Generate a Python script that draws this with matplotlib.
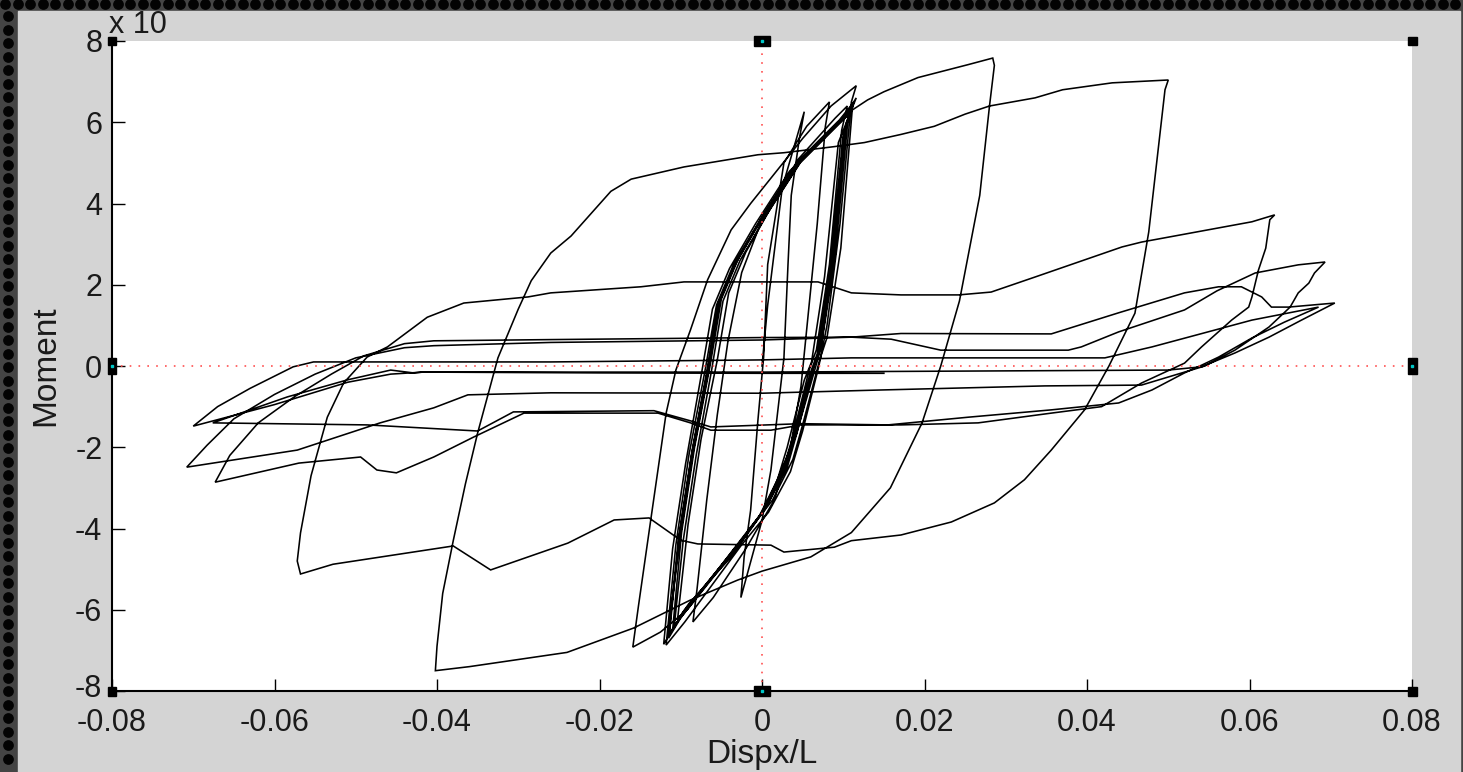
import numpy as np
import matplotlib
matplotlib.use('Agg')
import matplotlib.pyplot as plt
from matplotlib.patches import Rectangle
from matplotlib.transforms import ScaledTranslation

W, H = 1463, 772

## Hysteresis record (disp/L, moment).
# early elastic cycles
cyc_e0 = [(0.0, 0.0), (0.0007, 1.5), (0.0025, 4.4), (0.0052, 6.26),
          (0.0046, 5.6), (0.0036, 4.2), (0.0032, 2.5), (0.0027, 0.2), (0.0011, -2.56), (0.0, -3.8),
          (-0.0015, -4.9), (-0.0026, -5.7),
          (-0.0022, -4.7), (-0.0014, -3.55), (-0.0005, -1.33), (0.0002, 0.22), (0.0007, 2.5),
          (0.0027, 5.0), (0.0055, 5.9), (0.0083, 6.5)]
cyc_e1 = [(0.0078, 5.9), (0.0068, 3.5), (0.0058, 1.5), (0.0048, -0.5), (0.0035, -2.0), (0.0015, -3.3),
          (-0.002, -4.5), (-0.006, -5.7), (-0.0085, -6.3),
          (-0.0080, -5.5), (-0.0068, -3.3), (-0.0055, -1.2), (-0.0042, 0.6), (-0.0025, 2.3), (0.0, 3.6),
          (0.0045, 5.1), (0.0090, 6.1), (0.0105, 6.4)]

# repeated cycles around +-0.011
cyc_s1 = [(0.0098, 5.8), (0.0083, 2.5), (0.0067, 0.4), (0.0058, -0.1), (0.0037, -1.8), (0.0025, -2.6),
          (0.0, -3.6), (-0.0032, -4.5), (-0.0094, -6.0), (-0.0108, -6.4),
          (-0.0097, -4.3), (-0.0081, -2.2), (-0.0062, -0.1), (-0.0048, 1.6), (-0.0027, 2.6), (0.0005, 3.7),
          (0.0047, 5.0), (0.0097, 6.0), (0.0110, 6.35)]
cyc_s2 = [(0.0102, 5.8), (0.0087, 2.6), (0.0071, 0.4), (0.0062, -0.1), (0.0041, -1.7), (0.0029, -2.5),
          (0.0004, -3.5), (-0.0028, -4.35), (-0.0098, -6.1), (-0.0114, -6.6),
          (-0.0102, -4.2), (-0.0086, -2.1), (-0.0067, -0.1), (-0.0053, 1.55), (-0.0032, 2.55), (0.0, 3.65),
          (0.0042, 4.95), (0.0092, 5.95), (0.0112, 6.4)]
cyc_016 = [(0.0104, 6.0), (0.0088, 2.6), (0.0072, 0.4), (0.0042, -1.7), (0.0004, -3.5), (-0.003, -4.45),
           (-0.0092, -6.0), (-0.0125, -6.55), (-0.0159, -6.92),
           (-0.0152, -5.9), (-0.0137, -3.8), (-0.0118, -1.16), (-0.0106, -0.1), (-0.0088, 0.89),
           (-0.0067, 2.12), (-0.0038, 3.35), (-0.0014, 4.0), (0.0010, 4.6), (0.0050, 5.6), (0.0085, 6.4),
           (0.0116, 6.9)]
cyc_s3 = [(0.0110, 6.5), (0.0096, 3.5), (0.0080, 1.0), (0.0070, 0.0), (0.0050, -1.6), (0.0035, -2.6),
          (0.0008, -3.6), (-0.0025, -4.4), (-0.0095, -6.3), (-0.0118, -6.87),
          (-0.0106, -4.4), (-0.0090, -2.2), (-0.0070, -0.1), (-0.0056, 1.5), (-0.0035, 2.5), (-0.0002, 3.6),
          (0.0040, 4.9), (0.0090, 5.9), (0.0108, 6.2)]
cyc_s4 = [(0.0100, 5.7), (0.0084, 2.4), (0.0068, 0.3), (0.0059, -0.2), (0.0038, -1.8), (0.0026, -2.65),
          (0.0001, -3.6), (-0.0031, -4.45), (-0.0097, -6.05), (-0.0110, -6.5),
          (-0.0099, -4.1), (-0.0083, -2.0), (-0.0064, 0.0), (-0.0050, 1.65), (-0.0029, 2.65), (0.0003, 3.75),
          (0.0045, 5.05), (0.0095, 6.05), (0.0113, 6.5)]
cyc_s5 = [(0.0106, 6.1), (0.0090, 2.7), (0.0073, 0.5), (0.0064, 0.0), (0.0043, -1.65), (0.0031, -2.5),
          (0.0006, -3.45), (-0.0027, -4.3), (-0.0100, -6.2), (-0.0115, -6.7),
          (-0.0103, -4.3), (-0.0087, -2.2), (-0.0068, -0.15), (-0.0054, 1.55), (-0.0033, 2.5),
          (-0.0001, 3.6), (0.0041, 4.9), (0.0091, 5.9), (0.0111, 6.3)]
cyc_s6 = [(0.0094, 5.5), (0.0077, 2.2), (0.0061, 0.1), (0.0052, -0.35), (0.0031, -2.0), (0.0019, -2.8),
          (-0.0006, -3.8), (-0.0038, -4.7), (-0.0090, -5.85), (-0.0104, -6.25),
          (-0.0091, -3.9), (-0.0075, -1.8), (-0.0055, 0.15), (-0.0041, 1.8), (-0.0020, 2.8), (0.0011, 3.9),
          (0.0053, 5.2), (0.0102, 6.15), (0.0116, 6.6)]
cyc_s7 = [(0.0111, 6.3), (0.0097, 2.9), (0.0080, 0.7), (0.0071, 0.15), (0.0050, -1.45), (0.0038, -2.3),
          (0.0013, -3.3), (-0.0020, -4.15), (-0.0106, -6.35), (-0.0121, -6.85),
          (-0.0110, -4.5), (-0.0094, -2.4), (-0.0075, -0.25), (-0.0061, 1.4), (-0.0040, 2.4),
          (-0.0008, 3.5), (0.0034, 4.8), (0.0085, 5.8), (0.0109, 6.25)]
cyc_s8 = [(0.0101, 5.75), (0.0086, 2.55), (0.0070, 0.35), (0.0061, -0.15), (0.0040, -1.75),
          (0.0028, -2.55), (0.0003, -3.55), (-0.0029, -4.4), (-0.0099, -6.15), (-0.0116, -6.65),
          (-0.0101, -4.25), (-0.0085, -2.15), (-0.0066, -0.12), (-0.0052, 1.6), (-0.0031, 2.6),
          (0.0001, 3.7), (0.0043, 5.0), (0.0093, 6.0), (0.0111, 6.3)]

# large cycles
cyc_029 = [(0.0130, 6.55), (0.0150, 6.75), (0.0192, 7.1), (0.0254, 7.42), (0.0284, 7.58),
           (0.0286, 7.4), (0.0280, 6.4), (0.0268, 4.2), (0.0243, 1.6), (0.0220, 0.0), (0.0197, -1.4),
           (0.0158, -3.0), (0.0110, -4.1), (0.0060, -4.7), (0.0, -5.05), (-0.0030, -5.27),
           (-0.0088, -5.76), (-0.0158, -6.45), (-0.0240, -7.05), (-0.0360, -7.4), (-0.0402, -7.5)]
cyc_050 = [(-0.0400, -6.9), (-0.0393, -5.6), (-0.0380, -4.3), (-0.0365, -2.9), (-0.0350, -1.65),
           (-0.0325, 0.2), (-0.0300, 1.4), (-0.0284, 2.1), (-0.0260, 2.78), (-0.0235, 3.2), (-0.0186, 4.3),
           (-0.0161, 4.6), (-0.0096, 4.9), (-0.0005, 5.2), (0.0027, 5.25), (0.0089, 5.4), (0.0126, 5.5),
           (0.0171, 5.7), (0.0212, 5.9), (0.0250, 6.2), (0.0280, 6.4), (0.0336, 6.6), (0.0370, 6.8),
           (0.0431, 6.97), (0.0500, 7.04),
           (0.0496, 6.8), (0.0476, 3.3), (0.0459, 1.3), (0.0427, 0.0), (0.0397, -1.08), (0.0356, -2.07),
           (0.0323, -2.8), (0.0286, -3.37), (0.0233, -3.84), (0.0171, -4.16), (0.0110, -4.3),
           (0.0089, -4.46), (0.0027, -4.58), (0.0011, -4.41), (-0.0079, -4.38), (-0.0100, -4.29),
           (-0.0139, -3.74), (-0.0182, -3.79), (-0.0239, -4.36), (-0.0334, -5.02), (-0.0380, -4.43),
           (-0.0528, -4.88), (-0.0568, -5.12)]
cyc_063 = [(-0.0572, -4.8), (-0.0568, -4.11), (-0.0555, -2.7), (-0.0535, -1.26), (-0.0515, -0.42),
           (-0.0486, 0.22), (-0.0461, 0.47), (-0.0412, 1.2), (-0.0367, 1.55), (-0.0288, 1.7),
           (-0.0260, 1.8), (-0.0149, 1.95), (-0.0096, 2.07), (0.0069, 2.07), (0.0110, 1.8), (0.0171, 1.75),
           (0.0242, 1.75), (0.0282, 1.82), (0.0336, 2.19), (0.0443, 2.93), (0.0467, 3.05), (0.0603, 3.55),
           (0.0631, 3.72),
           (0.0625, 3.6), (0.0620, 2.9), (0.0611, 2.36), (0.0603, 1.7), (0.0599, 1.45), (0.0578, 1.13),
           (0.0541, 0.47), (0.0520, 0.07), (0.0467, -0.42), (0.0418, -1.0), (0.0356, -1.16),
           (0.0266, -1.4), (0.0171, -1.45), (0.0048, -1.45), (0.0011, -1.58), (-0.0063, -1.58),
           (-0.0088, -1.4), (-0.0128, -1.16), (-0.0293, -1.16), (-0.0355, -1.75), (-0.0404, -2.24),
           (-0.0450, -2.63), (-0.0474, -2.56), (-0.0494, -2.24), (-0.0570, -2.39), (-0.0673, -2.86)]
cyc_069 = [(-0.0655, -2.2), (-0.0620, -1.4), (-0.0575, -0.75), (-0.0530, -0.2), (-0.0490, 0.25),
           (-0.0440, 0.55), (-0.0404, 0.62), (-0.0260, 0.65), (0.0, 0.7), (0.0110, 0.71), (0.0159, 0.66),
           (0.0220, 0.39), (0.0377, 0.39), (0.0393, 0.47), (0.0439, 0.84), (0.0520, 1.38), (0.0560, 1.85),
           (0.0607, 2.29), (0.0660, 2.49), (0.0693, 2.56),
           (0.0680, 2.29), (0.0673, 2.04), (0.0660, 1.8), (0.0650, 1.45), (0.0624, 0.96), (0.0582, 0.39),
           (0.0545, 0.0), (0.0500, -0.27), (0.0467, -0.47), (0.0348, -0.49), (0.0147, -0.59),
           (0.0, -0.67), (-0.0260, -0.66), (-0.0362, -0.71), (-0.0404, -1.03), (-0.0470, -1.4),
           (-0.0572, -2.07), (-0.0708, -2.49)]
cyc_070 = [(-0.0683, -1.95), (-0.0650, -1.3), (-0.0600, -0.7), (-0.0550, -0.2), (-0.0500, 0.2),
           (-0.0440, 0.45), (-0.0404, 0.5), (-0.0260, 0.58), (0.0, 0.64), (0.0110, 0.71), (0.0171, 0.80),
           (0.0356, 0.79), (0.0439, 1.31), (0.0520, 1.8), (0.0562, 1.95), (0.0590, 1.95), (0.0615, 1.7),
           (0.0627, 1.45), (0.0648, 1.45), (0.0705, 1.55),
           (0.0664, 1.13), (0.0624, 0.71), (0.0582, 0.32), (0.0541, -0.02), (0.0500, -0.1),
           (0.0300, -0.12), (0.0, -0.15), (-0.0417, -0.15), (-0.0457, -0.2), (-0.0510, -0.4),
           (-0.0600, -0.95), (-0.0700, -1.48)]
cyc_068 = [(-0.0670, -1.0), (-0.0630, -0.55), (-0.0577, -0.02), (-0.0552, 0.1), (-0.0408, 0.1),
           (-0.0260, 0.1), (0.0, 0.15), (0.0110, 0.2), (0.0422, 0.2), (0.0480, 0.47), (0.0603, 1.13),
           (0.0685, 1.45),
           (0.0643, 1.08), (0.0603, 0.69), (0.0562, 0.22), (0.0541, 0.02), (0.0520, -0.17),
           (0.0480, -0.59), (0.0439, -0.91), (0.0356, -1.08), (0.0254, -1.26), (0.0155, -1.45),
           (0.0048, -1.42), (-0.0063, -1.5), (-0.0088, -1.35), (-0.0133, -1.1), (-0.0306, -1.13),
           (-0.0350, -1.6), (-0.0486, -1.45), (-0.0600, -1.42), (-0.0676, -1.4)]
cyc_end = [(-0.0584, -0.76), (-0.0510, -0.34), (-0.0457, -0.1), (-0.0429, -0.17), (-0.0417, -0.15),
           (-0.0200, -0.17), (0.0, -0.18), (0.0150, -0.18)]

record = [cyc_e0, cyc_e1, cyc_s1, cyc_s2, cyc_s6, cyc_016, cyc_s3, cyc_s7, cyc_s4, cyc_s8, cyc_s5,
          cyc_029, cyc_050, cyc_063, cyc_069, cyc_070, cyc_068, cyc_end]

xticks = [-0.08, -0.06, -0.04, -0.02, 0, 0.02, 0.04, 0.06, 0.08]
xtick_labels = ['-0.08', '-0.06', '-0.04', '-0.02', '0', '0.02', '0.04', '0.06', '0.08']
yticks = [-8, -6, -4, -2, 0, 2, 4, 6, 8]
ytick_labels = ['-8', '-6', '-4', '-2', '0', '2', '4', '6', '8']

pts = np.array([p for cyc in record for p in cyc])
disp = pts[:, 0]
moment = pts[:, 1]

fig = plt.figure(figsize=(W / 100, H / 100), dpi=100)

## Window frame: dotted dark border and grey panel.
bg = fig.add_axes([0, 0, 1, 1], zorder=0)
bg.set_xlim(0, W)
bg.set_ylim(H, 0)
bg.axis('off')
bg.add_patch(Rectangle((0, 0), W, H, color='#444444'))
dx = np.arange(5, W, 12.5)
dy = np.arange(16, H, 13.5)
bg.scatter(dx, np.full_like(dx, 3.5), s=60, color='#030303', lw=0)
bg.scatter(np.full_like(dy, 8), dy, s=60, color='#030303', lw=0)
bg.add_patch(Rectangle((18, 11), 1442, H, color='#d4d4d4'))

ax = fig.add_axes([112 / W, (H - 691) / H, 1300 / W, 650 / H], zorder=1)
ax.set_facecolor('white')

ax.plot(disp, moment, color='black', lw=1.15, solid_joinstyle='miter')

ax.axvline(0, color='#ff5050', lw=1.2, ls=(0, (1, 4.3)), zorder=5)
ax.axhline(0, color='#ff5050', lw=1.2, ls=(0, (1, 4.3)), zorder=5)

ax.set_xlim(-0.08, 0.08)
ax.set_ylim(-8, 8)
ax.set_xticks(xticks)
ax.set_xticklabels(xtick_labels)
ax.set_yticks(yticks)
ax.set_yticklabels(ytick_labels)

for s in ['top', 'right']:
    ax.spines[s].set_visible(False)
for s in ['left', 'bottom']:
    ax.spines[s].set_linewidth(1.5)

font = 'Liberation Sans'
ax.tick_params(direction='in', length=9, width=1.0, top=False, right=False,
               labelsize=22, colors='black')
ax.tick_params(axis='x', pad=12)
ax.tick_params(axis='y', pad=7)
for lab in ax.get_xticklabels() + ax.get_yticklabels():
    lab.set_fontfamily(font)
    lab.set_color('#1a1a1a')
# the lowest y label sits just above the first x label
low = ax.get_yticklabels()[0]
low.set_transform(low.get_transform() + ScaledTranslation(0, 4 / 72, fig.dpi_scale_trans))

ax.set_xlabel('Dispx/L', fontsize=24, family=font, color='#1a1a1a', labelpad=1)
ax.set_ylabel('Moment', fontsize=24, family=font, color='#1a1a1a', labelpad=10)

ax.annotate('x 10', xy=(0, 1), xycoords='axes fraction', xytext=(-2, 6),
            textcoords='offset points', ha='left', va='baseline',
            fontsize=22, family=font, color='#1a1a1a', annotation_clip=False)

## Selection handles on the axes box.
hw, hh = 1300.0, 650.0
handles = [(0, 1, 8, 8), (0.5, 1, 16, 9), (1, 1, 9, 8),
           (0, 0.5, 8, 16), (1, 0.5, 9, 16),
           (0, 0, 8, 9), (0.5, 0, 16, 10), (1, 0, 9, 9)]
for hx, hy, w, h in handles:
    ax.add_patch(Rectangle((hx - w / 2 / hw, hy - h / 2 / hh), w / hw, h / hh,
                           transform=ax.transAxes, color='black', clip_on=False, zorder=6))
    if hx == 0.5 or hy == 0.5:
        ax.plot(hx, hy, marker='s', ms=1.5, color='#00c8c8', transform=ax.transAxes,
                clip_on=False, zorder=7)

fig.savefig('out.png', dpi=100)
